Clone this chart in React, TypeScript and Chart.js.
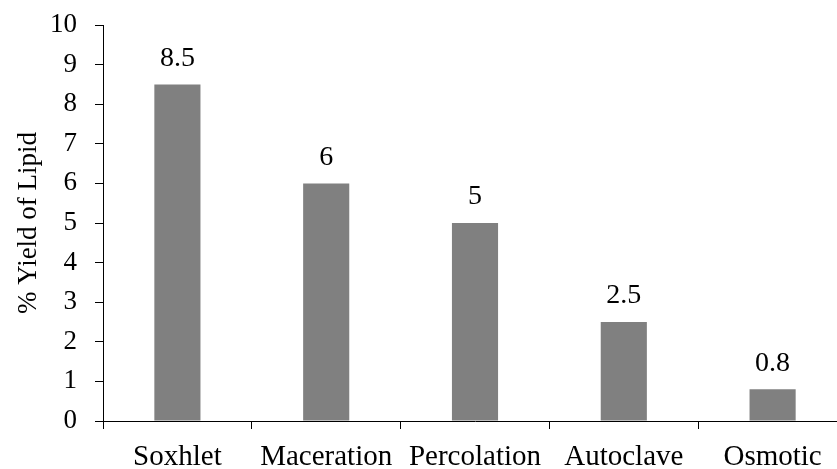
import React, { useEffect, useRef } from "react";
import { Chart, registerables } from "chart.js";

Chart.register(...registerables);

const categories = ["Soxhlet", "Maceration", "Percolation", "Autoclave", "Osmotic"];
const yieldValues = [8.5, 6, 5, 2.5, 0.8];
const valueLabels = ["8.5", "6", "5", "2.5", "0.8"];
const yTickMin = 0;
const yTickMax = 10;
const yTitle = "% Yield of Lipid";

const FONT = "'Liberation Serif', 'Times New Roman', serif";

const valueLabelPlugin = {
  id: "valueLabels",
  afterDatasetsDraw(chart: any) {
    const ctx = chart.ctx;
    const meta = chart.getDatasetMeta(0);
    ctx.save();
    ctx.fillStyle = "#000";
    ctx.font = `28px ${FONT}`;
    ctx.textAlign = "center";
    ctx.textBaseline = "middle";
    meta.data.forEach((bar: any, i: number) => {
      ctx.fillText(valueLabels[i], bar.x, bar.y - 26);
    });
    ctx.restore();
  },
};

export default function App() {
  const ref = useRef<HTMLCanvasElement | null>(null);
  useEffect(() => {
    let chart: any = null;
    let cancelled = false;
    const build = () => {
      if (cancelled || !ref.current) return;
      chart = new Chart(ref.current, {
        type: "bar",
        data: {
          labels: categories,
          datasets: [
            {
              data: yieldValues,
              backgroundColor: "#808080",
              borderWidth: 0,
              barPercentage: 0.31,
              categoryPercentage: 1,
            },
          ],
        },
        options: {
          animation: false,
          responsive: true,
          maintainAspectRatio: false,
          layout: { padding: { top: 25, right: 13, bottom: 0, left: 0 } },
          plugins: { legend: { display: false }, tooltip: { enabled: false } },
          scales: {
            x: {
              offset: true,
              grid: {
                offset: true,
                drawOnChartArea: false,
                drawTicks: true,
                tickLength: 8,
                color: "#000",
              },
              border: { display: true, color: "#000", width: 1 },
              ticks: {
                color: "#000",
                font: { family: FONT, size: 29 },
                padding: 11,
                maxRotation: 0,
                autoSkip: false,
              },
              afterFit: (scale: any) => {
                scale.height = 48;
                scale.paddingLeft = 0;
                scale.paddingRight = 0;
              },
            },
            y: {
              min: yTickMin,
              max: yTickMax,
              grid: {
                drawOnChartArea: false,
                drawTicks: true,
                tickLength: 8,
                color: "#000",
              },
              border: { display: true, color: "#000", width: 1 },
              ticks: {
                stepSize: 1,
                color: "#000",
                font: { family: FONT, size: 27 },
                padding: 18,
              },
              title: {
                display: true,
                text: yTitle,
                color: "#000",
                font: { family: FONT, size: 27 },
                padding: { top: 13, bottom: 0 },
              },
              afterFit: (scale: any) => {
                scale.width = 103;
                scale.paddingTop = 0;
                scale.paddingBottom = 0;
              },
            },
          },
        },
        plugins: [valueLabelPlugin],
      });
    };
    const fonts: any = (document as any).fonts;
    if (fonts && fonts.load) {
      Promise.all([
        fonts.load("27px 'Liberation Serif'"),
        fonts.load("29px 'Liberation Serif'"),
      ])
        .catch(() => null)
        .then(build);
    } else {
      build();
    }
    return () => {
      cancelled = true;
      if (chart) chart.destroy();
    };
  }, []);

  return (
    <div
      style={{
        position: "fixed",
        left: 0,
        top: 0,
        width: 837,
        height: 469,
        overflow: "hidden",
        background: "#fff",
      }}
    >
      <div style={{ position: "absolute", left: 0, top: 0, width: 860, height: 469 }}>
        <canvas ref={ref} />
      </div>
    </div>
  );
}
